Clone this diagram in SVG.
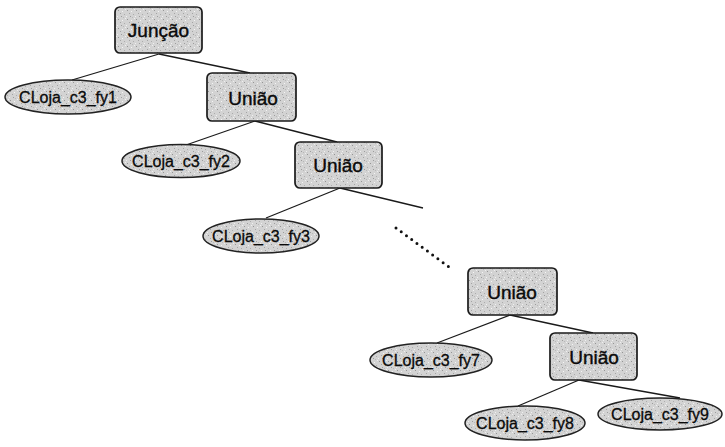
<svg xmlns="http://www.w3.org/2000/svg" width="725" height="447" viewBox="0 0 725 447">
  <defs>
    <!-- speckled grey fill shared by all nodes -->
    <pattern id="speckle" width="9" height="9" patternUnits="userSpaceOnUse">
      <rect width="9" height="9" fill="#d3d3d3"/>
      <rect x="1" y="1" width="1" height="1" fill="#959595"/>
      <rect x="5" y="2" width="1" height="1" fill="#f4f4f4"/>
      <rect x="3" y="4" width="1" height="1" fill="#a4a4a4"/>
      <rect x="7" y="5" width="1" height="1" fill="#acacac"/>
      <rect x="0" y="7" width="1" height="1" fill="#f0f0f0"/>
      <rect x="4" y="7" width="1" height="1" fill="#9c9c9c"/>
      <rect x="8" y="0" width="1" height="1" fill="#efefef"/>
      <rect x="6" y="8" width="1" height="1" fill="#b8b8b8"/>
    </pattern>
  </defs>
  <style>
    .op { fill: url(#speckle); stroke: #1a1a1a; stroke-width: 1.7; }
    .rel { fill: url(#speckle); stroke: #222; stroke-width: 1.5; }
    .edge { stroke: #1a1a1a; stroke-width: 1.3; fill: none; }
    .dots { stroke: #111; stroke-width: 3; stroke-linecap: round; stroke-dasharray: 0 6.5; fill: none; }
    .opTxt { font-family: "Liberation Sans", Arial, sans-serif; font-size: 19px; fill: #0a0a0a; stroke: #0a0a0a; stroke-width: 0.4; text-anchor: middle; }
    .relTxt { font-family: "Liberation Sans", Arial, sans-serif; font-size: 16px; fill: #0a0a0a; stroke: #0a0a0a; stroke-width: 0.3; text-anchor: middle; }
  </style>

  <rect width="725" height="447" fill="#ffffff"/>

  <!-- connectors -->
  <g id="edges">
    <line class="edge" x1="159" y1="54" x2="72" y2="80"/>
    <line class="edge" x1="159" y1="54" x2="250" y2="73"/>
    <line class="edge" x1="255" y1="121" x2="186" y2="145"/>
    <line class="edge" x1="255" y1="121" x2="337" y2="142"/>
    <line class="edge" x1="340" y1="188" x2="266" y2="218"/>
    <line class="edge" x1="340" y1="188" x2="423" y2="208"/>
    <line class="dots" x1="396" y1="228" x2="449" y2="267"/>
    <line class="edge" x1="510" y1="315" x2="437" y2="343"/>
    <line class="edge" x1="510" y1="315" x2="593" y2="333"/>
    <line class="edge" x1="579" y1="380" x2="518" y2="406"/>
    <line class="edge" x1="579" y1="380" x2="680" y2="398"/>
  </g>

  <g id="juncao">
    <rect class="op" x="115" y="7" width="87" height="46" rx="5"/>
    <text class="opTxt" x="158.5" y="37" font-size="20" stroke-width="0.6">Junção</text>
  </g>

  <g id="fy1">
    <ellipse class="rel" cx="68" cy="97" rx="63" ry="17"/>
    <text class="relTxt" x="68" y="103">CLoja_c3_fy1</text>
  </g>

  <g id="uniao1">
    <rect class="op" x="207" y="73" width="89" height="48" rx="5"/>
    <text class="opTxt" x="253" y="105">União</text>
  </g>

  <g id="fy2">
    <ellipse class="rel" cx="181" cy="161" rx="59" ry="16.5"/>
    <text class="relTxt" x="181" y="167">CLoja_c3_fy2</text>
  </g>

  <g id="uniao2">
    <rect class="op" x="295" y="142" width="87" height="46" rx="5"/>
    <text class="opTxt" x="338" y="172">União</text>
  </g>

  <g id="fy3">
    <ellipse class="rel" cx="261" cy="236" rx="58" ry="17"/>
    <text class="relTxt" x="261" y="242">CLoja_c3_fy3</text>
  </g>

  <g id="uniao3">
    <rect class="op" x="468" y="268" width="89" height="47" rx="5"/>
    <text class="opTxt" x="512" y="299">União</text>
  </g>

  <g id="fy7">
    <ellipse class="rel" cx="431" cy="360" rx="61" ry="17"/>
    <text class="relTxt" x="431" y="366">CLoja_c3_fy7</text>
  </g>

  <g id="uniao4">
    <rect class="op" x="550" y="333" width="87" height="47" rx="5"/>
    <text class="opTxt" x="594" y="364">União</text>
  </g>

  <g id="fy8">
    <ellipse class="rel" cx="525" cy="423" rx="60" ry="17"/>
    <text class="relTxt" x="525" y="429">CLoja_c3_fy8</text>
  </g>

  <g id="fy9">
    <ellipse class="rel" cx="660" cy="414" rx="62" ry="16"/>
    <text class="relTxt" x="660" y="420">CLoja_c3_fy9</text>
  </g>
</svg>
